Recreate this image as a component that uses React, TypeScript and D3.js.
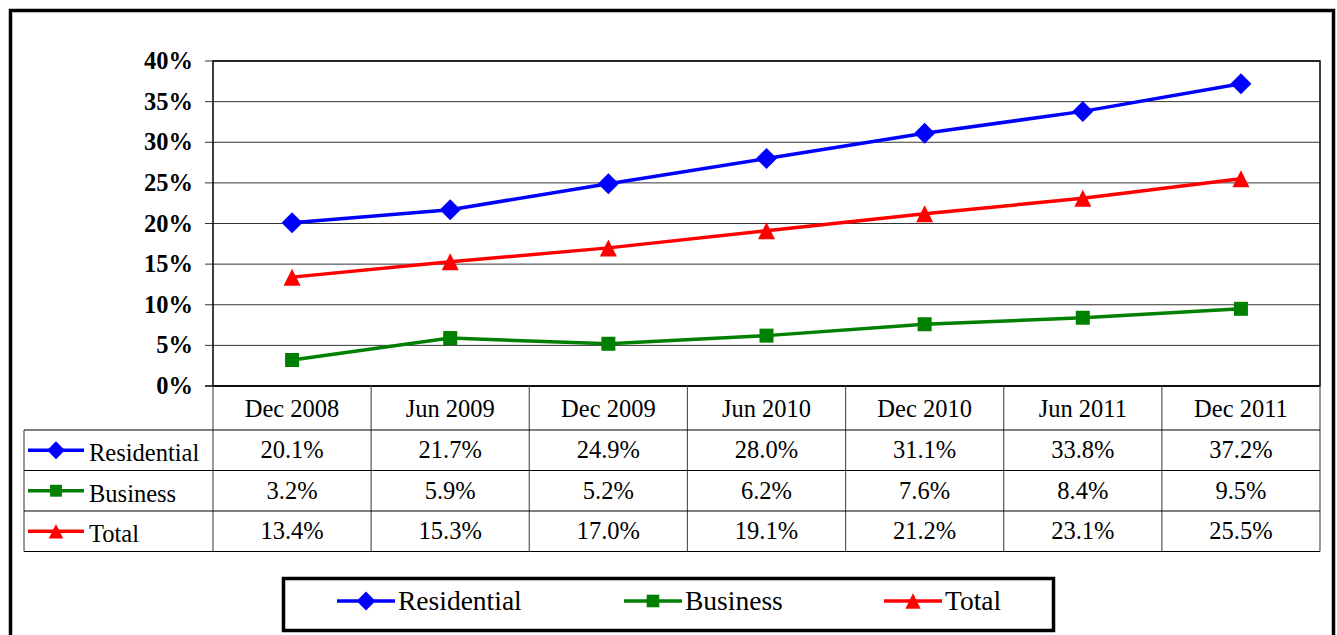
import React from 'react'
import * as d3 from 'd3'

const periods = ['Dec 2008', 'Jun 2009', 'Dec 2009', 'Jun 2010', 'Dec 2010', 'Jun 2011', 'Dec 2011']
const residential = [20.1, 21.7, 24.9, 28.0, 31.1, 33.8, 37.2]
const business = [3.2, 5.9, 5.2, 6.2, 7.6, 8.4, 9.5]
const total = [13.4, 15.3, 17.0, 19.1, 21.2, 23.1, 25.5]
const yTicks = [0, 5, 10, 15, 20, 25, 30, 35, 40]

const series = [
  { name: 'Residential', values: residential, color: '#0000FF', shape: 'diamond' },
  { name: 'Business', values: business, color: '#008000', shape: 'square' },
  { name: 'Total', values: total, color: '#FF0000', shape: 'triangle' },
]

const FONT = "'Liberation Serif', 'Times New Roman', Tinos, 'DejaVu Serif', serif"
const FS = 24.5

// k scales the marker: 1 in the plot, smaller in the table keys
function Marker({ shape, color, x, y, k = 1 }: { shape: string; color: string; x: number; y: number; k?: number }) {
  if (shape === 'diamond') {
    const r = 10.5 * k
    return <path d={`M${x},${y - r}L${x + r},${y}L${x},${y + r}L${x - r},${y}Z`} fill={color} />
  }
  if (shape === 'square') {
    const r = 7 * k
    return <rect x={x - r} y={y - r} width={2 * r} height={2 * r} fill={color} />
  }
  const r = 8.5 * k
  return <path d={`M${x},${y - r}L${x + r},${y + r}L${x - r},${y + r}Z`} fill={color} />
}

export default function App() {
  const W = 1337
  const H = 635
  const left = 213
  const right = 1320
  const top = 61
  const bottom = 386

  const x = d3.scaleBand<string>().domain(periods).range([left, right])
  const y = d3.scaleLinear().domain([0, 40]).range([bottom, top])
  const cx = (i: number) => (x(periods[i]) as number) + x.bandwidth() / 2
  const line = d3
    .line<number>()
    .x((_, i) => cx(i))
    .y((d) => y(d))

  const headerBottom = 430
  const rowH = 40.5
  const tableLeft = 24
  const rowTops = series.map((_, i) => headerBottom + i * rowH)
  const tableBottom = headerBottom + series.length * rowH

  return (
    <svg width={W} height={H} style={{ position: 'absolute', left: 0, top: 0, fontFamily: FONT }}>
      <rect x={0} y={0} width={W} height={H} fill="#fff" />
      <rect x={10.5} y={10.5} width={1323} height={640} fill="none" stroke="#000" strokeWidth={3.5} />

      {/* gridlines and y axis */}
      {yTicks.map((t) => (
        <g key={t}>
          <line x1={205} x2={right} y1={y(t)} y2={y(t)} stroke="#000" strokeWidth={t === 0 ? 1.5 : 0.8} />
          <text x={193} y={y(t)} dy="0.33em" textAnchor="end" fontWeight="bold" fontSize={FS}>
            {t}%
          </text>
        </g>
      ))}
      <rect x={left} y={top} width={right - left} height={bottom - top} fill="none" stroke="#000" strokeWidth={1.5} />

      {/* lines */}
      {series.map((s) => (
        <g key={s.name}>
          <path d={line(s.values) || ''} fill="none" stroke={s.color} strokeWidth={3.5} />
          {s.values.map((v, i) => (
            <Marker key={i} shape={s.shape} color={s.color} x={cx(i)} y={y(v)} />
          ))}
        </g>
      ))}

      {/* data table */}
      {periods.map((p, i) => (
        <text key={p} x={cx(i)} y={(bottom + headerBottom) / 2 + 1} dy="0.33em" textAnchor="middle" fontSize={FS}>
          {p}
        </text>
      ))}
      {periods.map((p) => (
        <line key={p} x1={x(p) as number} x2={x(p) as number} y1={bottom} y2={tableBottom} stroke="#555" strokeWidth={1.2} />
      ))}
      <line x1={right} x2={right} y1={bottom} y2={tableBottom} stroke="#555" strokeWidth={1.2} />
      <line x1={tableLeft} x2={tableLeft} y1={headerBottom} y2={tableBottom} stroke="#555" strokeWidth={1.2} />
      {[...rowTops, tableBottom].map((ry, i) => (
        <line key={i} x1={tableLeft} x2={right} y1={ry} y2={ry} stroke="#000" strokeWidth={1.2} />
      ))}
      {series.map((s, i) => {
        const cy = rowTops[i] + rowH / 2
        return (
          <g key={s.name}>
            <line x1={28} x2={84} y1={cy} y2={cy} stroke={s.color} strokeWidth={3.5} />
            <Marker shape={s.shape} color={s.color} x={56} y={cy} k={0.85} />
            <text x={89} y={cy + 3} dy="0.33em" fontSize={FS}>
              {s.name}
            </text>
            {s.values.map((v, j) => (
              <text key={j} x={cx(j)} y={cy} dy="0.33em" textAnchor="middle" fontSize={FS}>
                {v.toFixed(1)}%
              </text>
            ))}
          </g>
        )
      })}

      {/* legend */}
      <rect x={283.5} y={578.5} width={770} height={52} fill="#fff" stroke="#000" strokeWidth={3.5} />
      {series.map((s, i) => {
        const lx = [337, 624, 884][i]
        const ly = 601
        return (
          <g key={s.name}>
            <line x1={lx} x2={lx + 58} y1={ly} y2={ly} stroke={s.color} strokeWidth={3.5} />
            <Marker shape={s.shape} color={s.color} x={lx + 29} y={ly} k={0.9} />
            <text x={lx + 61} y={ly} dy="0.33em" fontSize={27.5}>
              {s.name}
            </text>
          </g>
        )
      })}
    </svg>
  )
}
